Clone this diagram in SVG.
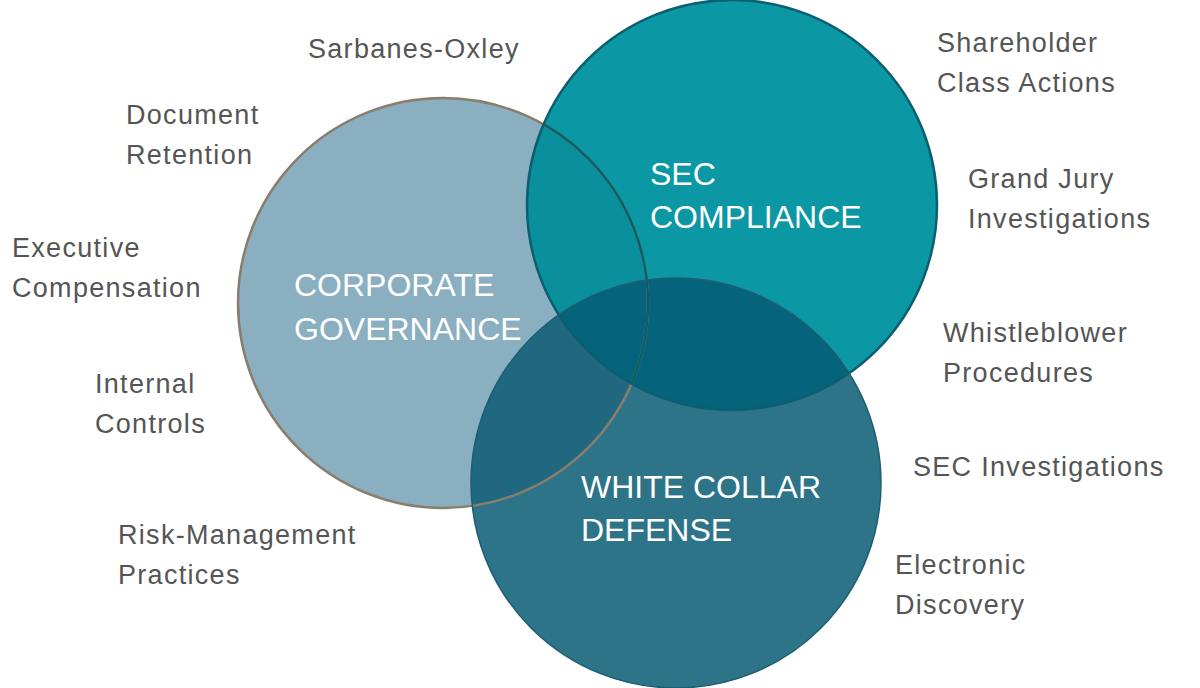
<svg xmlns="http://www.w3.org/2000/svg" width="1200" height="688" viewBox="0 0 1200 688">
<style>
.l{font-family:"Liberation Sans",Arial,sans-serif;font-size:27px;fill:#555;letter-spacing:1.3px}
.c{font-family:"Liberation Sans Narrow","Liberation Sans",Arial,sans-serif;font-size:32px;fill:#fff}
</style>
<defs>
<clipPath id="cg"><circle cx="443" cy="303" r="205"/></clipPath>
<clipPath id="sec"><circle cx="732" cy="205" r="205"/></clipPath>
<clipPath id="wcd"><circle cx="676" cy="483" r="205"/></clipPath>
</defs>
<rect width="1200" height="688" fill="#fff"/>
<g id="corporate-governance"><circle cx="443" cy="303" r="205" fill="#8aafc0"/></g>
<g id="sec-compliance"><circle cx="732" cy="205" r="205" fill="#0b97a3"/>
<circle cx="732" cy="205" r="205" fill="#0a8f9c" clip-path="url(#cg)"/></g>
<g id="white-collar-defense"><circle cx="676" cy="483" r="205" fill="#2e7489"/>
<circle cx="676" cy="483" r="205" fill="#1f6880" clip-path="url(#cg)"/>
<circle cx="676" cy="483" r="205" fill="#05637b" clip-path="url(#sec)"/></g>
<g id="outlines" fill="none" stroke-width="2.5">
<circle cx="443" cy="303" r="205" stroke="#8a7d6c"/>
<circle cx="443" cy="303" r="205" stroke="#0d5f66" clip-path="url(#sec)"/>
<circle cx="732" cy="205" r="205" stroke="#0b5f70"/>
<circle cx="676" cy="483" r="205" stroke="#1c5f72" stroke-width="1.5"/>
</g>
<text class="c" x="294" y="296">CORPORATE</text>
<text class="c" x="294" y="340">GOVERNANCE</text>
<text class="c" x="650" y="185">SEC</text>
<text class="c" x="650" y="228">COMPLIANCE</text>
<text class="c" x="581" y="498">WHITE COLLAR</text>
<text class="c" x="581" y="541">DEFENSE</text>
<text class="l" x="308" y="58">Sarbanes-Oxley</text>
<text class="l" x="126" y="124">Document</text>
<text class="l" x="126" y="164">Retention</text>
<text class="l" x="12" y="257">Executive</text>
<text class="l" x="12" y="297">Compensation</text>
<text class="l" x="95" y="393">Internal</text>
<text class="l" x="95" y="433">Controls</text>
<text class="l" x="118" y="544">Risk-Management</text>
<text class="l" x="118" y="584">Practices</text>
<text class="l" x="937" y="52">Shareholder</text>
<text class="l" x="937" y="92">Class Actions</text>
<text class="l" x="968" y="188">Grand Jury</text>
<text class="l" x="968" y="228">Investigations</text>
<text class="l" x="943" y="342">Whistleblower</text>
<text class="l" x="943" y="382">Procedures</text>
<text class="l" x="913" y="476">SEC Investigations</text>
<text class="l" x="895" y="574">Electronic</text>
<text class="l" x="895" y="614">Discovery</text>
</svg>
